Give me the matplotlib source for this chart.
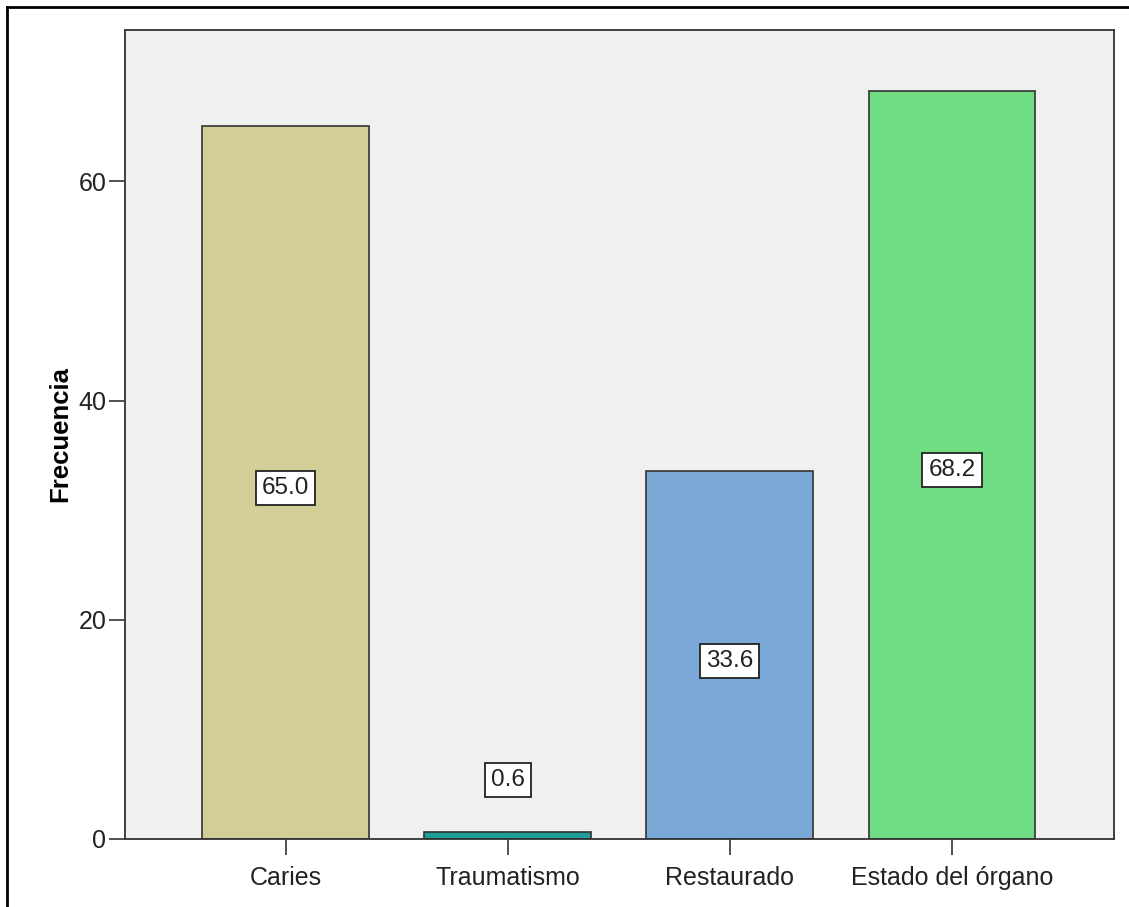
import matplotlib
matplotlib.use("Agg")
import matplotlib.pyplot as plt
from matplotlib.lines import Line2D

plt.rcParams['font.family'] = ['Liberation Sans', 'DejaVu Sans']

categories = ["Caries", "Traumatismo", "Restaurado", "Estado del órgano"]
values = [65.0, 0.6, 33.6, 68.2]
colors = ["#D3CE97", "#1E9E9A", "#7BA9D7", "#70DD85"]
label_y = [32.0, 5.4, 16.2, 33.7]
yticks = [0, 20, 40, 60]

W, H, DPI = 1129, 907, 100
fig = plt.figure(figsize=(W / DPI, H / DPI), dpi=DPI)
fig.patch.set_facecolor("white")

left, right, top, bottom = 125, 1114, 30, 839
ax = fig.add_axes([left / W, 1 - bottom / H, (right - left) / W, (bottom - top) / H])
ax.set_facecolor("#F0F0F0")

x = list(range(len(categories)))
ax.bar(x, values, width=0.75, color=colors, edgecolor="#333333", linewidth=1.2, zorder=2)

for xi, v, ly in zip(x, values, label_y):
    ax.text(xi, ly, f"{v:.1f}", ha="center", va="center", fontsize=17.5, color="#222222",
            bbox=dict(boxstyle="square,pad=0.25", facecolor="white", edgecolor="#222222", linewidth=1.3),
            zorder=3)

ax.set_xlim(-0.723, 3.73)
ax.set_ylim(0, 73.8)
ax.set_xticks(x)
ax.set_xticklabels(categories)
ax.set_yticks(yticks)
ax.tick_params(axis="both", direction="out", length=11.5, width=1.2, color="#333333",
               labelsize=18, labelcolor="#222222")
ax.tick_params(axis="y", pad=2)
ax.tick_params(axis="x", pad=8)
for s in ax.spines.values():
    s.set_color("#333333")
    s.set_linewidth(1.3)

ax.set_ylabel("Frecuencia", fontsize=18.5, fontweight="bold", labelpad=4)

# outer frame (top and left edges)
fig.add_artist(Line2D([7 / W, 1.0], [1 - 7 / H, 1 - 7 / H], color="black", linewidth=2))
fig.add_artist(Line2D([7 / W, 7 / W], [0.0, 1 - 7 / H], color="black", linewidth=2))

fig.savefig("out.png", dpi=DPI)
